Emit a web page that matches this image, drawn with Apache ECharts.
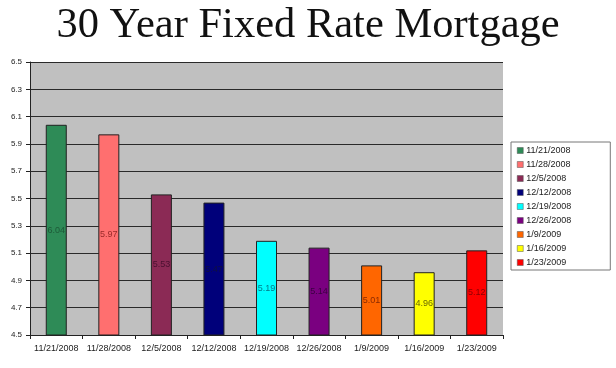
<!DOCTYPE html>
<html><head><meta charset="utf-8">
<script src="https://cdn.jsdelivr.net/npm/echarts@6/dist/echarts.min.js"></script>
<style>html,body{margin:0;padding:0;background:#fff}#c{width:616px;height:368px}</style>
</head><body><div id="c"></div>
<script>
const categories = ['11/21/2008','11/28/2008','12/5/2008','12/12/2008','12/19/2008','12/26/2008','1/9/2009','1/16/2009','1/23/2009'];
const rates = [6.04, 5.97, 5.53, 5.47, 5.19, 5.14, 5.01, 4.96, 5.12];
const yTicks = {min: 4.5, max: 6.5, step: 0.2};

const barColors = ['#2e8b57','#ff6f6f','#8b2a55','#00007a','#00ffff','#7a0080','#ff6600','#ffff00','#ff0000'];
const labelColors = ['#1d5a38','#9a2a2a','#4a1030','#101040','#007a8a','#3a0040','#8a2a00','#6a6a00','#8a0000'];

const series = categories.map((name, i) => ({
  name: name,
  type: 'bar',
  stack: 'all',
  barWidth: 21,
  data: categories.map((c, j) => j === i ? rates[i] : null),
  itemStyle: {color: barColors[i], borderColor: '#222', borderWidth: 1},
  label: {show: true, position: 'inside', formatter: p => p.value.toFixed(2),
    fontFamily: 'Liberation Sans, Arial', fontSize: 9, color: labelColors[i]}
}));

const chart = echarts.init(document.getElementById('c'), null, {renderer: 'canvas'});
chart.setOption({
  animation: false,
  color: barColors,
  title: {text: '30 Year Fixed Rate Mortgage', left: 'center', top: -1,
    textStyle: {fontFamily: 'Liberation Serif, Times New Roman, serif', fontWeight: 'normal', fontSize: 42.5, color: '#111'}},
  legend: {orient: 'vertical', left: 511, top: 142,
    backgroundColor: '#fff', borderColor: '#777', borderWidth: 1, padding: [3, 39, 2, 6],
    itemWidth: 6, itemHeight: 6, itemGap: 3, icon: 'rect',
    itemStyle: {borderColor: '#555', borderWidth: 0.5},
    textStyle: {fontFamily: 'Liberation Sans, Arial', fontSize: 9, color: '#222', padding: [0, 0, 0, -2], lineHeight: 11},
    data: categories},
  grid: {left: 30, right: 113, top: 62, bottom: 33, show: true, backgroundColor: '#c0c0c0', borderWidth: 0},
  xAxis: {type: 'category', data: categories,
    axisLine: {lineStyle: {color: '#222'}},
    axisTick: {show: true, alignWithLabel: false, length: 4, lineStyle: {color: '#222'}},
    axisLabel: {fontFamily: 'Liberation Sans, Arial', fontSize: 9, color: '#222', margin: 9, interval: 0}},
  yAxis: {type: 'value', min: yTicks.min, max: yTicks.max, interval: yTicks.step,
    axisLine: {show: true, lineStyle: {color: '#222'}},
    axisTick: {show: true, length: 4, inside: false, lineStyle: {color: '#222'}},
    axisLabel: {fontFamily: 'Liberation Sans, Arial', fontSize: 8, color: '#222', margin: 8, formatter: v => v.toFixed(1)},
    splitLine: {show: true, lineStyle: {color: '#2a2a2a', width: 1}}},
  series: series
});
</script></body></html>
